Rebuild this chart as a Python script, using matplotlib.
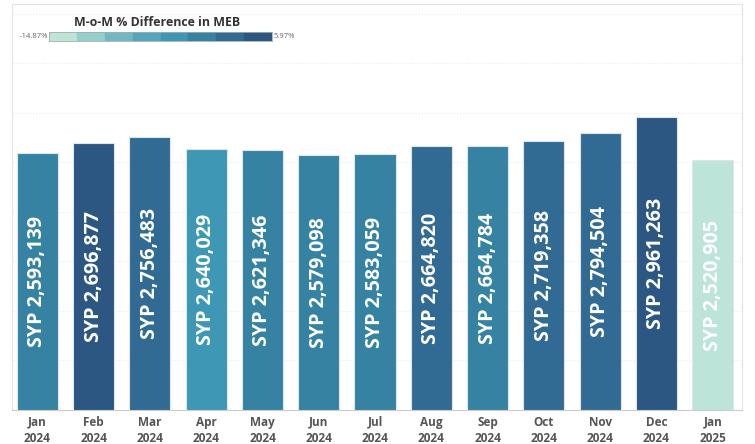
import numpy as np
import matplotlib
matplotlib.use('Agg')
import matplotlib.pyplot as plt
from matplotlib.patches import Rectangle

plt.rcParams['font.family'] = ['Open Sans', 'DejaVu Sans']

# ---- data ----
months = ['Jan\n2024', 'Feb\n2024', 'Mar\n2024', 'Apr\n2024', 'May\n2024', 'Jun\n2024',
          'Jul\n2024', 'Aug\n2024', 'Sep\n2024', 'Oct\n2024', 'Nov\n2024', 'Dec\n2024',
          'Jan\n2025']
meb = [2593139, 2696877, 2756483, 2640029, 2621346, 2579098, 2583059,
       2664820, 2664784, 2719358, 2794504, 2961263, 2520905]
# Dec 2023 is not shown; Jan 2024 colour sits in the middle bin, estimate ~0%
jan24_mom = 0.0

# stepped colour scale (8 bins) from the legend
palette = ['#bde4d9', '#93d0cc', '#72b8c4', '#54a6bd', '#3e98b5', '#3582a3', '#316b93', '#2c5783']
mom_lo, mom_hi = -14.87, 5.97

mom = [jan24_mom] + list((np.array(meb[1:]) / np.array(meb[:-1]) - 1) * 100)
step = (mom_hi - mom_lo) / len(palette)
bar_colors = [palette[min(int((m - mom_lo) / step), len(palette) - 1)] for m in mom]

fig = plt.figure(figsize=(7.55, 4.44), dpi=100)
ax = fig.add_axes([12/755, 34/444, 730/755, 406/444])

x = np.arange(len(meb))
ax.bar(x, meb, width=0.73, color=bar_colors, edgecolor='#dde6ee', linewidth=0.8, zorder=3)
# labels centred in the middle of each bar
for xi, v in zip(x, meb):
    ax.text(xi, v / 2, f'SYP {v:,}', rotation=90, ha='center', va='center',
            color='white', fontsize=14.2, fontweight='bold', zorder=4)

ax.set_xlim(-0.45, 12.52)
ax.set_ylim(0, 4.1e6)
ax.set_yticks(np.arange(0.5e6, 4.01e6, 0.5e6))
ax.yaxis.grid(True, color='#ebebeb', linestyle=':', linewidth=0.8, zorder=0)
ax.tick_params(axis='y', left=False, labelleft=False)
ax.set_xticks(x)
ax.set_xticklabels(months, fontsize=8.5, fontweight='bold', color='#555555', linespacing=1.3)
ax.tick_params(axis='x', length=0, pad=4)
for s in ['left', 'top', 'right']:
    ax.spines[s].set_color('#e3e3e3')
    ax.spines[s].set_linewidth(0.8)
ax.spines['bottom'].set_color('#cccccc')
ax.spines['bottom'].set_linewidth(0.8)

# ---- legend (stepped colour bar) ----
fig.text(157/755, 1 - 22/444, 'M-o-M % Difference in MEB', ha='center', va='center',
         fontsize=8.9, fontweight='bold', color='#333333')
lax = fig.add_axes([49/755, 1 - 41/444, 223/755, 9/444])
for i, c in enumerate(palette):
    lax.add_patch(Rectangle((i, 0), 1, 1, color=c))
lax.set_xlim(0, len(palette))
lax.set_ylim(0, 1)
lax.set_xticks([])
lax.set_yticks([])
for s in lax.spines.values():
    s.set_color('#aaaaaa')
    s.set_linewidth(0.6)
fig.text(48/755, 1 - 36.5/444, f'{mom_lo:.2f}%', ha='right', va='center', fontsize=5.5, color='#666666')
fig.text(274/755, 1 - 36.5/444, f'{mom_hi:.2f}%', ha='left', va='center', fontsize=5.5, color='#666666')

fig.savefig('out.png', dpi=100)
